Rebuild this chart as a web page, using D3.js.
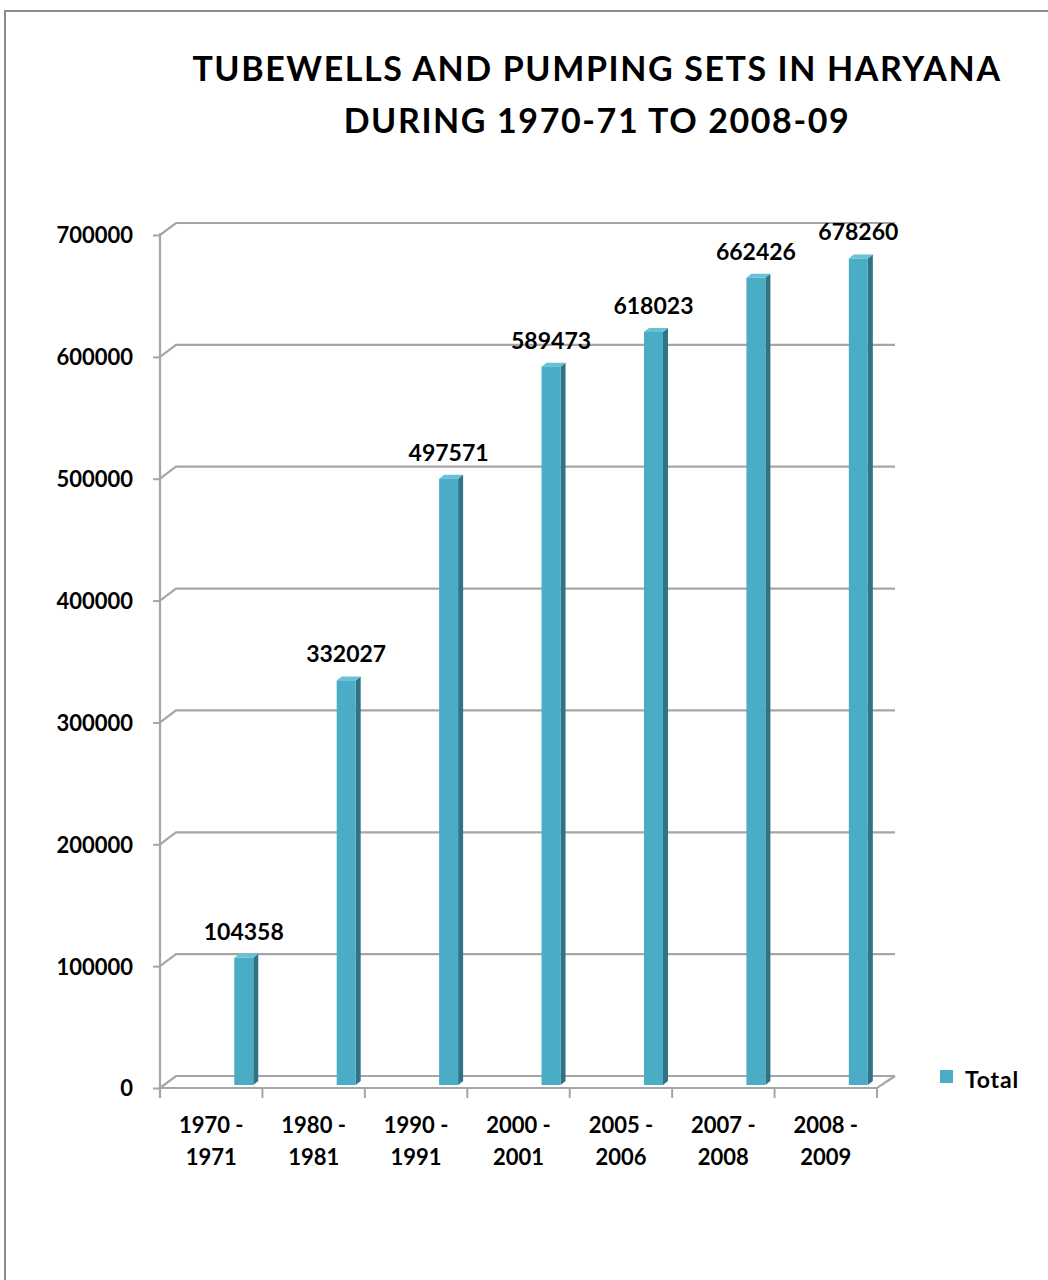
<!DOCTYPE html>
<html>
<head>
<meta charset="utf-8">
<script src="https://cdn.jsdelivr.net/npm/d3@7"></script>
<style>
  html, body { margin: 0; padding: 0; background: #fff; }
  svg { display: block; }
  text { font-family: Lato, "Open Sans", sans-serif; font-weight: 700; fill: #000; }
</style>
</head>
<body>
<svg id="chart" width="1048" height="1280"></svg>
<script>
// Tubewells and pumping sets in Haryana, totals by year
const categories = ["1970 - 1971", "1980 - 1981", "1990 - 1991", "2000 - 2001",
                    "2005 - 2006", "2007 - 2008", "2008 - 2009"];
const totals = [104358, 332027, 497571, 589473, 618023, 662426, 678260];
const yTicks = [0, 100000, 200000, 300000, 400000, 500000, 600000, 700000];
const seriesName = "Total";
const titleLines = ["TUBEWELLS AND PUMPING SETS IN HARYANA", "DURING 1970-71 TO 2008-09"];

const svg = d3.select("#chart");

// outer chart-area frame (top and left edges only)
svg.append("path")
  .attr("d", "M5,1280 L5,11 L1048,11")
  .attr("fill", "none").attr("stroke", "#8c8c8c").attr("stroke-width", 2);

// plot geometry
const plotLeft = 160, plotRight = 877, plotBottom = 1088, plotTop = 235;
const DX = 16, DY = -12;          // wall / floor depth
const x = d3.scaleBand().domain(categories).range([plotLeft, plotRight]);
const y = d3.scaleLinear().domain([0, 700000]).range([plotBottom, plotTop]);

const gridColor = "#a6a6a6";

// back-wall gridlines with the perspective step from the left wall
const grid = svg.append("g").attr("fill", "none").attr("stroke", gridColor).attr("stroke-width", 2.2);
yTicks.forEach(t => {
  const yy = y(t);
  grid.append("path").attr("d", `M${plotLeft},${yy} L${plotLeft + DX},${yy + DY} L${plotRight + 18},${yy + DY}`);
});
// floor front edge and right corner
grid.append("path").attr("d", `M${plotLeft},${plotBottom} L${plotRight},${plotBottom} L${plotRight + 18},${plotBottom + DY}`);
// left wall
grid.append("line").attr("x1", plotLeft).attr("x2", plotLeft).attr("y1", plotTop - 2).attr("y2", plotBottom + 10);

// y axis labels and ticks
const yAxis = d3.axisLeft(y).tickValues(yTicks).tickSize(7).tickPadding(20).tickFormat(d3.format("d"));
const gy = svg.append("g").attr("transform", `translate(${plotLeft},0)`).call(yAxis);
gy.select(".domain").remove();
gy.selectAll(".tick line").attr("stroke", gridColor).attr("stroke-width", 2);
gy.selectAll(".tick text").attr("font-size", 22).attr("font-family", "Lato, sans-serif")
  .attr("font-weight", 700).attr("fill", "#000").attr("dy", "0.36em");

// x axis: boundary ticks and two-line category labels
const boundaries = categories.map(c => x(c)).concat([plotRight]);
svg.append("g").selectAll("line").data(boundaries).join("line")
  .attr("x1", d => d).attr("x2", d => d).attr("y1", plotBottom).attr("y2", plotBottom + 10)
  .attr("stroke", gridColor).attr("stroke-width", 2);

const xLabels = svg.append("g").selectAll("text").data(categories).join("text")
  .attr("text-anchor", "middle").attr("font-size", 22)
  .attr("transform", d => `translate(${x(d) + x.bandwidth() / 2},0)`);
xLabels.selectAll("tspan").data(d => {
  const parts = d.split(" - ");
  return [parts[0] + " -", parts[1]];
}).join("tspan")
  .attr("x", 0).attr("y", (d, i) => 1133 + i * 32).text(d => d);

// 3D columns
const barColor = "#4bacc6", sideColor = "#2f7385", topColor = "#67c1d8";
const bw = 19, bdx = 5, bdy = -4, setBack = 3;
const bars = svg.append("g");
categories.forEach((c, i) => {
  const x0 = x(c) + x.bandwidth() * 0.725;
  const y0 = plotBottom - setBack;
  const y1 = y(totals[i]) - setBack;
  const g = bars.append("g");
  // side face
  g.append("path")
    .attr("d", `M${x0 + bw},${y0} L${x0 + bw + bdx},${y0 + bdy} L${x0 + bw + bdx},${y1 + bdy} L${x0 + bw},${y1} Z`)
    .attr("fill", sideColor);
  // top face
  g.append("path")
    .attr("d", `M${x0},${y1} L${x0 + bdx},${y1 + bdy} L${x0 + bw + bdx},${y1 + bdy} L${x0 + bw},${y1} Z`)
    .attr("fill", topColor);
  // front face
  g.append("rect").attr("x", x0).attr("y", y1).attr("width", bw).attr("height", y0 - y1)
    .attr("fill", barColor);
  // value label
  g.append("text").attr("x", x0 + bw / 2).attr("y", y1 - 18)
    .attr("text-anchor", "middle").attr("font-size", 23).text(totals[i]);
});

// title
svg.append("g").selectAll("text").data(titleLines).join("text")
  .attr("x", 597).attr("y", (d, i) => 81 + i * 52)
  .attr("text-anchor", "middle").attr("font-size", 34).attr("letter-spacing", 1.6)
  .text(d => d);

// legend
svg.append("rect").attr("x", 940).attr("y", 1070).attr("width", 13).attr("height", 13).attr("fill", barColor);
svg.append("text").attr("x", 965).attr("y", 1088).attr("font-size", 23).attr("letter-spacing", 0.8)
  .text(seriesName);
</script>
</body>
</html>
